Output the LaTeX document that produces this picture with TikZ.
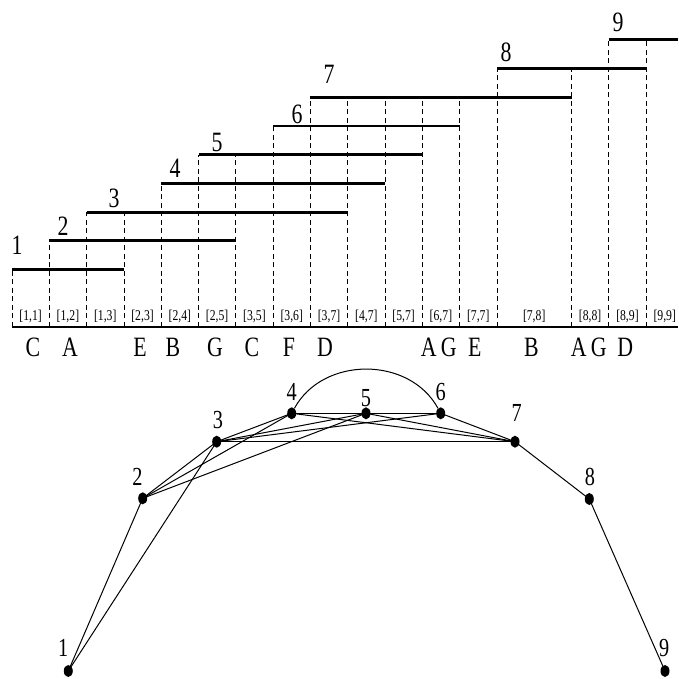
\documentclass[tikz,border=0pt]{standalone}
\usepackage{fontspec}
\setmainfont{Liberation Serif}[FakeStretch=0.78]
\usetikzlibrary{shapes.geometric}
\begin{document}
\begin{tikzpicture}[x=1pt,y=-1pt,
  bar/.style={line width=2.8pt},
  baseline rule/.style={line width=2pt},
  guide/.style={dash pattern=on 5pt off 3.5pt, line width=0.8pt},
  ivl/.style={font=\fontsize{15}{15}\selectfont, inner sep=0pt},
  big/.style={font=\fontsize{28}{28}\selectfont, inner sep=0pt},
  glabel/.style={font=\fontsize{26}{26}\selectfont, inner sep=0pt},
  dot/.style={ellipse, fill=black, draw=none, inner sep=0pt, minimum width=9pt, minimum height=12pt},
  link/.style={line width=1pt}]
\useasboundingbox (0,0) rectangle (678,679);
% dashed column lines
\foreach \k/\t in {0/1,1/2,2/3,3/3,4/4,5/5,6/5,7/6,8/7,9/7,10/7,11/7,12/7,13/8,15/8,16/9,17/9}
  \draw[guide] ({12+37.3*\k},326.7) -- ({12+37.3*\k},{269.5-28.7*(\t-1)});
% interval bars
\foreach \i/\a/\b in {1/0/3,2/1/6,3/2/9,4/4/10,5/5/11,6/7/12,7/8/15,8/13/17}
  \draw[bar] ({12+37.3*\a},{269.5-28.7*(\i-1)}) -- ({12+37.3*\b},{269.5-28.7*(\i-1)});
\draw[bar] ({12+37.3*16},{269.5-28.7*8}) -- (678,{269.5-28.7*8});
% base rule
\draw[baseline rule] (12,326.7) -- (678,326.7);
% interval labels
\foreach \a/\b/\t in {0/1/{[1,1]},1/2/{[1,2]},2/3/{[1,3]},3/4/{[2,3]},4/5/{[2,4]},5/6/{[2,5]},6/7/{[3,5]},7/8/{[3,6]},8/9/{[3,7]},9/10/{[4,7]},10/11/{[5,7]},11/12/{[6,7]},12/13/{[7,7]},13/15/{[7,8]},15/16/{[8,8]},16/17/{[8,9]},17/18/{[9,9]}}
  \node[ivl] (iv\a) at ({12+37.3*(\a+\b)/2},316) {\t};
% bar numbers
\foreach \i/\x/\y in {1/17/245,2/63/226,3/114/198,4/175/168,5/217/142,6/297/114,7/329/74,8/506/52.5,9/618/22.5}
  \node[big] (num\i) at (\x,\y) {\i};
% letters
\foreach \n/\x/\t in {a/33/C,b/70/A,c/140/E,d/173/B,e/215/G,f/252/C,g/289/F,h/325/D,i/428.7/A,j/448.7/G,k/474.7/E,l/531.3/B,m/578.7/A,n/598.7/G,o/625.3/D}
  \node[big] (let\n) at (\x,347) {\t};
% graph nodes
\node[dot] (n1) at (68.3,671) {};
\node[dot] (n2) at (142.7,498.3) {};
\node[dot] (n3) at (216.7,441.7) {};
\node[dot] (n4) at (291.7,413.3) {};
\node[dot] (n5) at (366,413.3) {};
\node[dot] (n6) at (440.7,413.3) {};
\node[dot] (n7) at (515,441.7) {};
\node[dot] (n8) at (589.3,499) {};
\node[dot] (n9) at (665,671) {};
% graph labels
\node[glabel] (l1) at (63.3,648) {1};
\node[glabel] (l2) at (137.5,477) {2};
\node[glabel] (l3) at (218,420) {3};
\node[glabel] (l4) at (291.7,392) {4};
\node[glabel] (l5) at (366,398) {5};
\node[glabel] (l6) at (440.7,392) {6};
\node[glabel] (l7) at (516.7,413) {7};
\node[glabel] (l8) at (590,477) {8};
\node[glabel] (l9) at (664.3,648) {9};
% edges
\foreach \u/\v in {1/2,1/3,2/3,2/4,2/5,3/4,3/5,3/6,3/7,4/5,4/7,5/6,5/7,6/7,7/8,8/9}
  \draw[link] (n\u.center) -- (n\v.center);
\coordinate (ca) at (323,356);
\coordinate (cb) at (409.4,356);
\draw[link] (n4) .. controls (ca) and (cb) .. (n6);
\end{tikzpicture}
\end{document}
